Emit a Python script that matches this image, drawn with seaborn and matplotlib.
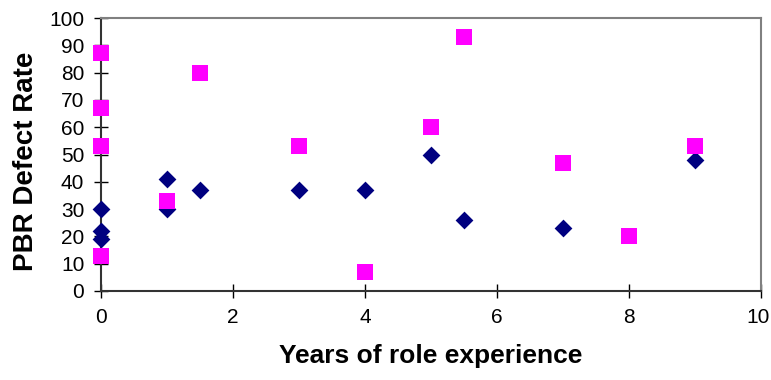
import matplotlib
matplotlib.use("Agg")
import matplotlib.pyplot as plt
import matplotlib.transforms as mtransforms
import seaborn as sns
import pandas as pd

# Years of role experience and PBR defect rates for the two series
diamond_years = [0, 0, 0, 1, 1, 1.5, 3, 4, 5, 5.5, 7, 9]
diamond_rates = [30, 22, 19, 41, 30, 37, 37, 37, 50, 26, 23, 48]

square_years = [0, 0, 0, 0, 1, 1.5, 3, 4, 5, 5.5, 7, 8, 9]
square_rates = [87, 67, 53, 13, 33, 80, 53, 7, 60, 93, 47, 20, 53]

x_ticks = [0, 2, 4, 6, 8, 10]
y_ticks = [0, 10, 20, 30, 40, 50, 60, 70, 80, 90, 100]

sns.set_theme(style="white")
plt.rcParams["font.family"] = ["Liberation Sans", "DejaVu Sans"]

diamonds = pd.DataFrame({"years": diamond_years, "rate": diamond_rates})
squares = pd.DataFrame({"years": square_years, "rate": square_rates})

fig = plt.figure(figsize=(7.71, 3.80), dpi=100)
ax = fig.add_axes([101 / 771, 1 - 291 / 380, 660 / 771, 273 / 380])

sns.scatterplot(data=diamonds, x="years", y="rate", ax=ax, marker="D",
                s=82, color="#000080", linewidth=0, zorder=3, clip_on=False)
sns.scatterplot(data=squares, x="years", y="rate", ax=ax, marker="s",
                s=133, color="#FF00FF", linewidth=0, zorder=4, clip_on=False)

ax.set_xlim(0, 10)
ax.set_ylim(0, 100)
ax.set_xticks(x_ticks)
ax.set_yticks(y_ticks)
ax.set_xticklabels([str(t) for t in x_ticks])
ax.set_yticklabels([str(t) for t in y_ticks])

ax.tick_params(axis="both", direction="inout", length=10, width=1,
               color="#000000", labelsize=15, labelcolor="#000000",
               bottom=True, left=True, top=False, right=False)
ax.tick_params(axis="x", pad=7)
ax.tick_params(axis="y", pad=7)

# keep the last x tick label inside the figure edge
last = ax.get_xticklabels()[-1]
last.set_transform(last.get_transform() +
                   mtransforms.ScaledTranslation(-3 / 100, 0, fig.dpi_scale_trans))

for side in ("top", "right"):
    ax.spines[side].set_color("#808080")
    ax.spines[side].set_linewidth(1.5)
for side in ("left", "bottom"):
    ax.spines[side].set_color("#333333")
    ax.spines[side].set_linewidth(1.5)

ax.set_xlabel("Years of role experience", fontsize=19, fontweight="bold",
              color="#000000")
ax.set_ylabel("PBR Defect Rate", fontsize=20, fontweight="bold",
              color="#000000")
ax.xaxis.set_label_coords(0.5, -0.195)
ax.yaxis.set_label_coords(-0.094, 0.476)

fig.savefig("out.png", dpi=100, facecolor="white")
